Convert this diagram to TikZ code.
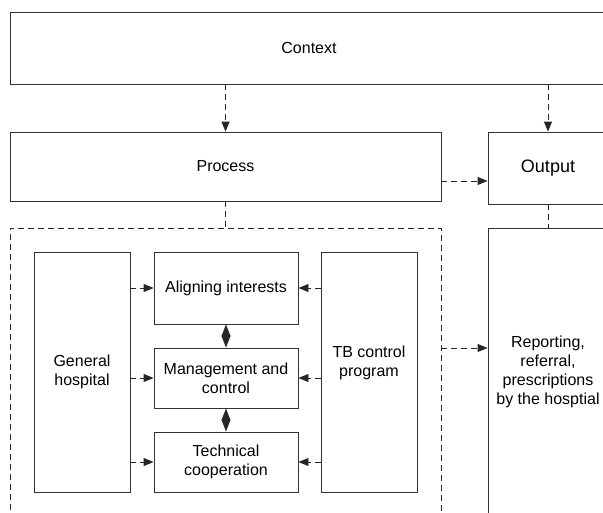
\documentclass[tikz,border=0pt]{standalone}
\usepackage{fontspec}
\setmainfont{Liberation Sans}
\usetikzlibrary{arrows.meta}
\begin{document}
\begin{tikzpicture}[x=1pt,y=-1pt,
  box/.style={draw=black!80, line width=0.9pt, inner sep=0pt, align=center,
    font=\fontsize{16}{19}\selectfont},
  dashline/.style={draw=black!85, line width=0.9pt, dash pattern=on 6pt off 4pt},
  arr/.style={dashline, -{Triangle[length=10pt,width=8pt]}},
  dbl/.style={draw=black!85, line width=0.9pt,
    {Triangle[length=12pt,width=9pt]}-{Triangle[length=12pt,width=9pt]}},
  txt/.style={align=center, inner sep=0pt, font=\fontsize{16}{19}\selectfont}]
\clip (0,0) rectangle (603,512);
\fill[white] (0,0) rectangle (603,512);
% top level boxes
\node[box, minimum width=598pt, minimum height=72pt] (ctx) at (309,48) {Context};
\node[box, minimum width=431pt, minimum height=69pt] (proc) at (225.5,166.5) {Process};
\node[box, minimum width=120pt, minimum height=72pt, font=\fontsize{18}{21}\selectfont] (out) at (548,168) {Output};
\node[box, dashline, minimum width=431pt, minimum height=302pt] (grp) at (225.5,379) {};
\node[box, minimum width=120pt, minimum height=288pt] (rep) at (548,372) {Reporting,\\referral,\\prescriptions\\by the hosptial};
% inner boxes
\node[box, minimum width=96pt, minimum height=240pt] (gh) at (82,372) {General\\hospital};
\node[box, minimum width=96pt, minimum height=240pt] (tb) at (369,372) {};
\node[txt] (tbt) at (369,363) {TB control\\program};
\node[box, minimum width=144pt, minimum height=72pt] (al) at (226,288) {Aligning interests};
\node[box, minimum width=144pt, minimum height=60pt] (mg) at (226,378) {Management and\\control};
\node[box, minimum width=144pt, minimum height=60pt] (tc) at (226,462) {Technical\\cooperation};
% connectors
\draw[arr] (ctx.south -| proc.north) -- (proc.north);
\draw[arr] (ctx.south -| out.north) -- (out.north);
\draw[arr] (proc.east |- 0,181) -- (out.west |- 0,181);
\draw[dashline] (proc.south) -- (grp.north);
\draw[dashline] (out.south) -- (rep.north);
\draw[arr] (grp.east |- 0,348) -- (rep.west |- 0,348);
\foreach \b in {al,mg,tc}{
  \draw[arr] (gh.east |- \b.west) -- (\b.west);
  \draw[arr] (tb.west |- \b.east) -- (\b.east);
}
\draw[dbl] (al.south) -- (mg.north);
\draw[dbl] (mg.south) -- (tc.north);
\end{tikzpicture}
\end{document}
